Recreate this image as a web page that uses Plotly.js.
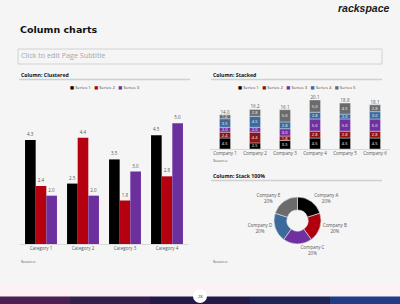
<!DOCTYPE html>
<html><head><meta charset="utf-8">
<script src="https://cdn.plot.ly/plotly-3.0.1.min.js"></script>
<style>html,body{margin:0;padding:0;background:#f5f5f5}#chart{width:400px;height:304px}</style>
</head><body><div id="chart"></div>
<script>
// ---- data ----
const clusterCategories = ['Category 1', 'Category 2', 'Category 3', 'Category 4'];
const clusterSeriesNames = ['Series 1', 'Series 2', 'Series 3'];
const clusterSeries1 = [4.3, 2.5, 3.5, 4.5];
const clusterSeries2 = [2.4, 4.4, 1.8, 2.8];
const clusterSeries3 = [2.0, 2.0, 3.0, 5.0];

const stackCategories = ['Company 1', 'Company 2', 'Company 3', 'Company 4', 'Company 5', 'Company 6'];
const stackSeriesNames = ['Series 1', 'Series 2', 'Series 3', 'Series 4', 'Series 5'];
const stackSeries1 = [4.5, 2.5, 3.5, 4.5, 4.5, 4.5];
const stackSeries2 = [2.4, 4.4, 1.8, 2.8, 2.8, 2.8];
const stackSeries3 = [2.0, 2.0, 3.0, 5.0, 5.0, 5.0];
const stackSeries4 = [3.5, 4.5, 2.8, 2.8, 2.0, 3.0];
const stackSeries5 = [1.6, 2.8, 5.0, 5.0, 4.5, 2.8];

const donutLabels = ['Company A', 'Company B', 'Company C', 'Company D', 'Company E'];
const donutValues = [20, 20, 20, 20, 20];

const pageNumber = '28';

// ---- styles ----
const clusterColors = ['#000000', '#b5000f', '#6c2f9e'];
const stackColors = ['#000000', '#8e1414', '#7030a0', '#3d6a9c', '#6b6b6b'];
const donutColors = ['#000000', '#b0000e', '#7030a0', '#3d6a9c', '#6b6b6b'];
const W = 400, H = 304;
const px = v => v / W;
const py = v => 1 - v / H;
const txt = '#555555';
const fontFam = '"Open Sans", "DejaVu Sans", sans-serif';

const traces = [];

// clustered bars
const clusterData = [clusterSeries1, clusterSeries2, clusterSeries3];
clusterData.forEach((vals, i) => {
  traces.push({
    type: 'bar', x: clusterCategories, y: vals, name: clusterSeriesNames[i],
    xaxis: 'x', yaxis: 'y', showlegend: false,
    marker: {color: clusterColors[i]},
    text: vals.map(v => v.toFixed(1)), textposition: 'outside',
    textfont: {size: 4.5, color: txt, family: fontFam},
    cliponaxis: false, hoverinfo: 'skip'
  });
});

// stacked bars (explicit bases)
const stackData = [stackSeries1, stackSeries2, stackSeries3, stackSeries4, stackSeries5];
const cum = stackCategories.map(() => 0);
stackData.forEach((vals, i) => {
  const base = cum.slice();
  vals.forEach((v, k) => cum[k] += v);
  traces.push({
    type: 'bar', x: stackCategories, y: vals, base: base, name: stackSeriesNames[i],
    xaxis: 'x2', yaxis: 'y2', showlegend: false,
    width: 0.37, offset: -0.185,
    marker: {color: stackColors[i], line: {color: '#f5f5f5', width: 0.4}},
    text: vals.map(v => v.toFixed(1)), textposition: 'inside', insidetextanchor: 'middle',
    textangle: 0, constraintext: 'none',
    textfont: {size: 4, color: '#ffffff', family: fontFam},
    hoverinfo: 'skip'
  });
});
traces.push({
  type: 'scatter', mode: 'text', x: stackCategories, y: cum.slice(),
  text: cum.map(v => v.toFixed(1)), textposition: 'top center',
  textfont: {size: 4.5, color: txt, family: fontFam},
  xaxis: 'x2', yaxis: 'y2', showlegend: false, cliponaxis: false, hoverinfo: 'skip'
});

// donut
traces.push({
  type: 'pie', labels: donutLabels, values: donutValues, hole: 0.45,
  sort: false, direction: 'clockwise', rotation: 0,
  marker: {colors: donutColors, line: {color: '#e8e8e8', width: 0.6}},
  textinfo: 'label+percent', textposition: 'outside',
  textfont: {size: 4.5, color: txt, family: fontFam},
  domain: {x: [px(274), px(321)], y: [py(244), py(197)]},
  showlegend: false, hoverinfo: 'skip', automargin: false
});

const legendText = (names, colors) => names.map((n, i) =>
  `<span style="color:${colors[i]}">■</span> ${n}`).join('&nbsp;&nbsp;&nbsp;');

const ann = (x, y, text, opts = {}) => Object.assign({
  xref: 'paper', yref: 'paper', x: px(x), y: py(y), text: text, showarrow: false,
  xanchor: 'left', yanchor: 'middle',
  font: {size: 5, color: '#333', family: fontFam}
}, opts);

const annotations = [
  ann(392, 8, '<b><i>rackspace</i></b>', {xanchor: 'right', font: {size: 10.5, color: '#1a1a1a', family: '"Liberation Sans", Arial, sans-serif'}}),
  ann(18, 29, '<b>Column charts</b>', {font: {size: 9.5, color: '#111', family: '"DejaVu Sans", sans-serif'}}),
  ann(19, 54.5, 'Click to edit Page Subtitle', {font: {size: 7.2, color: '#a6a6a6', family: fontFam}}),
  ann(19, 75.5, '<b>Column: Clustered</b>', {font: {size: 5.2, color: '#111', family: fontFam}}),
  ann(211, 75.5, '<b>Column: Stacked</b>', {font: {size: 5.2, color: '#111', family: fontFam}}),
  ann(211, 176, '<b>Column: Stack 100%</b>', {font: {size: 5.2, color: '#111', family: fontFam}}),
  ann(104.5, 86.5, legendText(clusterSeriesNames, clusterColors), {xanchor: 'center', font: {size: 4.3, color: '#444', family: fontFam}}),
  ann(297, 86.5, legendText(stackSeriesNames, stackColors), {xanchor: 'center', font: {size: 4.3, color: '#444', family: fontFam}}),
  ann(19, 261, 'Source:', {font: {size: 4.3, color: '#555', family: fontFam}}),
  ann(211, 160, 'Source:', {font: {size: 4.3, color: '#555', family: fontFam}}),
  ann(211, 261, 'Source:', {font: {size: 4.3, color: '#555', family: fontFam}}),
  ann(200, 296, pageNumber, {xanchor: 'center', font: {size: 4, color: '#333', family: fontFam}})
];

const rect = (x0, y0, x1, y1, fill, line) => ({
  type: 'rect', xref: 'paper', yref: 'paper', x0: px(x0), x1: px(x1), y0: py(y1), y1: py(y0),
  fillcolor: fill, line: line || {width: 0}, layer: 'below'
});
const hline = (x0, x1, y, color, width) => ({
  type: 'line', xref: 'paper', yref: 'paper', x0: px(x0), x1: px(x1), y0: py(y), y1: py(y),
  line: {color: color, width: width}, layer: 'below'
});

const shapes = [
  rect(0, 284, 400, 296.5, '#fbf2f5'),
  rect(18, 49, 382, 64, 'rgba(0,0,0,0)', {color: '#c9c9c9', width: 0.8}),
  hline(19, 190, 79.5, '#d0d0d0', 1.5),
  hline(211, 382, 79.5, '#d0d0d0', 1.5),
  hline(211, 382, 180.5, '#d0d0d0', 1.5),
  rect(0, 296.5, 70, 304, '#4a2150'),
  rect(70, 296.5, 150, 304, '#33204c'),
  rect(150, 296.5, 250, 304, '#231a48'),
  rect(250, 296.5, 330, 304, '#1f2456'),
  rect(330, 296.5, 400, 304, '#223c86'),
  {type: 'circle', xref: 'paper', yref: 'paper', x0: px(193), x1: px(207), y0: py(303), y1: py(289),
   fillcolor: '#ffffff', line: {width: 0}, layer: 'above'}
];

const layout = {
  width: W, height: H, margin: {l: 0, r: 0, t: 0, b: 0},
  paper_bgcolor: '#f5f5f5', plot_bgcolor: 'rgba(0,0,0,0)',
  barmode: 'group', bargap: 0.24, bargroupgap: 0,
  showlegend: false,
  font: {family: fontFam, color: txt},
  xaxis: {domain: [px(20), px(188)], showline: true, linecolor: '#d9d9d9', linewidth: 1,
          ticks: '', showgrid: false, zeroline: false, fixedrange: true,
          tickfont: {size: 4.5, color: txt, family: fontFam}},
  yaxis: {domain: [py(244), py(99)], range: [0, 6], visible: false, showgrid: false, zeroline: false},
  xaxis2: {domain: [px(210), px(390)], anchor: 'y2', showline: true, linecolor: '#d9d9d9', linewidth: 1,
           ticks: '', showgrid: false, zeroline: false,
           tickfont: {size: 4.5, color: txt, family: fontFam}},
  yaxis2: {domain: [py(149), py(95.3)], range: [0, 22], anchor: 'x2', visible: false, showgrid: false, zeroline: false},
  annotations: annotations,
  shapes: shapes
};

Plotly.newPlot('chart', traces, layout, {displayModeBar: false, staticPlot: true});
</script>
</body></html>
